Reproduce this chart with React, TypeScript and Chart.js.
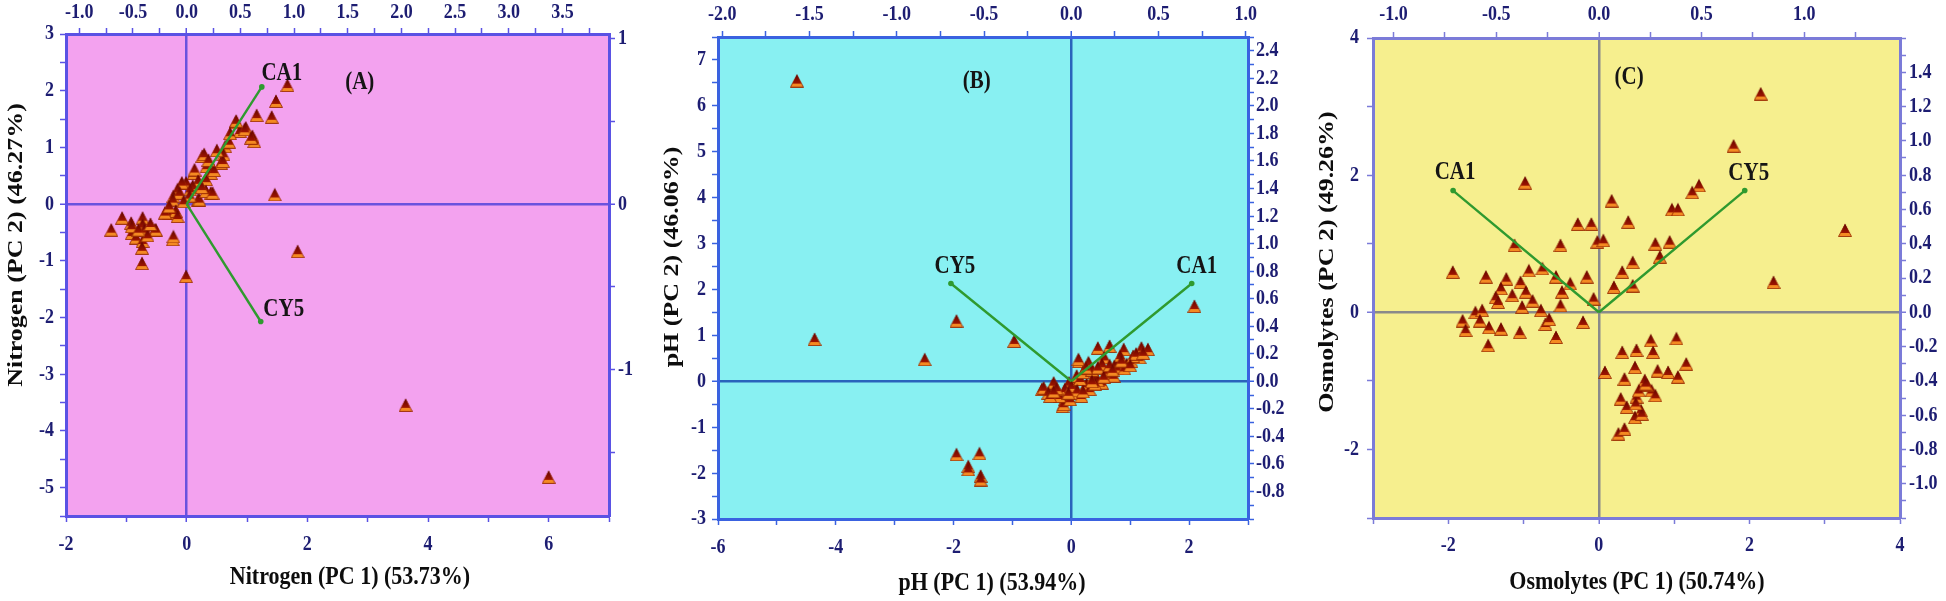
import React, { useEffect, useRef } from "react";
import { Chart, registerables } from "chart.js";

Chart.register(...registerables);

// ======================= DATA =======================
// Panel A – Nitrogen: PCA scores (PC1, PC2)
const A_SCORES: [number, number][] = [
  [1.67, 2.1], [1.48, 1.82], [1.41, 1.54], [1.16, 1.57], [0.81, 1.44], [0.98, 1.35],
  [1.09, 1.2], [1.12, 1.11], [0.88, 1.29], [0.96, 1.32], [0.82, 1.47], [1.07, 1.17],
  [0.64, 1.02], [0.61, 0.88], [0.57, 0.73], [0.6, 0.76], [0.26, 0.85], [0.29, 0.88],
  [0.33, 0.67], [0.4, 0.55], [0.12, 0.55], [0.13, 0.61], [0.19, 0.41], [0.32, 0.44],
  [0.4, 0.2], [0.19, 0.08], [0.21, 0.08], [0.32, 0.23], [0.43, 0.2], [0.1, 0.32],
  [-0.01, 0.38], [-0.08, 0.38], [-0.15, 0.26], [-0.22, 0.14], [-0.12, 0.2], [-0.23, 0.08],
  [0.06, 0.26], [1.46, 0.17], [1.84, -0.83], [-0.01, -1.27], [-0.74, -1.04], [-1.25, -0.45],
  [-1.07, -0.24], [-0.92, -0.33], [-0.73, -0.24], [-0.73, -0.36], [-0.53, -0.45], [-0.91, -0.51],
  [-0.84, -0.59], [-0.73, -0.65], [-0.74, -0.77], [-0.91, -0.39], [-0.23, -0.62], [-0.22, -0.57],
  [-0.29, -0.15], [-0.18, -0.12], [-0.36, -0.15], [-0.29, -0.04], [-0.15, -0.21], [-0.7, -0.45],
  [-0.51, -0.45], [0.5, 0.95], [0.7, 1.1], [0.45, 0.6], [0.05, 0.15], [0.25, 0.3],
  [-0.05, 0.05], [-0.65, -0.55], [-0.8, -0.45], [-0.6, -0.35], [0.72, 1.25], [0.36, 0.78],
  [3.63, -3.54], [6.0, -4.81],
];
// Loadings (top / right axes): [name, PC1, PC2]
const A_LOADINGS: [string, number, number][] = [["CA1", 0.7, 0.71], ["CY5", 0.69, -0.71]];
const A_X_LABELS = [-2, 0, 2, 4, 6];
const A_Y_LABELS = [-5, -4, -3, -2, -1, 0, 1, 2, 3];
const A_TOP_LABELS = [-1.0, -0.5, 0.0, 0.5, 1.0, 1.5, 2.0, 2.5, 3.0, 3.5];
const A_RIGHT_LABELS = [-1, 0, 1];

// Panel B – pH
const B_SCORES: [number, number][] = [
  [-4.66, 6.55], [-4.36, 0.92], [-2.49, 0.48], [-1.95, 1.32], [-0.97, 0.88], [2.09, 1.64],
  [-1.95, -1.59], [-1.56, -1.57], [-1.75, -1.85], [-1.75, -1.92], [-1.54, -2.06], [-1.54, -2.14],
  [0.45, 0.73], [0.65, 0.77], [0.89, 0.7], [1.19, 0.73], [1.3, 0.7], [0.13, 0.44], [0.12, 0.48],
  [0.3, 0.37], [0.29, 0.41], [0.56, 0.52], [0.52, 0.37], [0.8, 0.41], [0.83, 0.55], [1.02, 0.44],
  [1.16, 0.52], [-0.5, -0.17], [-0.47, -0.14], [-0.32, -0.1], [-0.3, -0.03], [-0.11, -0.39],
  [-0.15, -0.54], [-0.13, -0.5], [0.1, 0.04], [0.09, 0.12], [0.24, -0.1], [0.26, -0.06],
  [0.38, 0.12], [0.59, 0.19], [0.62, 0.23], [0.03, -0.25], [0.17, -0.32], [-0.25, -0.28],
  [-0.2, -0.32], [0.73, 0.33], [0.77, 0.3], [0.94, 0.37], [-0.04, -0.03], [-0.39, -0.25],
  [-0.36, -0.32], [0.31, -0.17], [0.52, -0.03], [0.45, 0.02], [-0.11, -0.17], [0.06, -0.17],
  [0.72, 0.12], [-0.02, -0.39], [1.05, 0.55], [0.9, 0.28], [0.0, -0.1], [0.15, 0.05],
  [0.2, 0.2], [0.35, 0.25], [0.45, 0.3], [0.55, 0.1], [0.65, 0.35], [0.85, 0.45],
  [1.1, 0.6], [1.22, 0.62], [0.4, -0.05], [0.1, -0.2], [-0.05, -0.25], [-0.25, -0.15],
  [0.2, -0.22], [0.35, 0.0], [0.7, 0.25], [1.0, 0.35], [0.25, 0.3], [-0.3, -0.22],
];
const B_LOADINGS: [string, number, number][] = [["CY5", -0.69, 0.71], ["CA1", 0.69, 0.71]];
const B_X_LABELS = [-6, -4, -2, 0, 2];
const B_Y_LABELS = [-3, -2, -1, 0, 1, 2, 3, 4, 5, 6, 7];
const B_TOP_LABELS = [-2.0, -1.5, -1.0, -0.5, 0.0, 0.5, 1.0];
const B_RIGHT_LABELS = [-0.8, -0.6, -0.4, -0.2, 0.0, 0.2, 0.4, 0.6, 0.8, 1.0, 1.2, 1.4, 1.6, 1.8, 2.0, 2.2, 2.4];

// Panel C – Osmolytes
const C_SCORES: [number, number][] = [
  [2.15, 3.19], [1.79, 2.43], [3.27, 1.2], [-0.98, 1.89], [0.17, 1.63], [1.33, 1.85],
  [1.24, 1.75], [0.97, 1.5], [1.05, 1.5], [-0.28, 1.29], [-0.1, 1.29], [0.39, 1.32],
  [-1.12, 0.98], [-0.51, 0.98], [-0.02, 1.03], [0.06, 1.05], [0.75, 1.0], [0.94, 1.03],
  [0.81, 0.81], [0.45, 0.73], [-1.94, 0.59], [-1.5, 0.52], [-1.23, 0.49], [-0.93, 0.61],
  [-0.75, 0.64], [-0.57, 0.52], [-0.38, 0.42], [-0.16, 0.52], [0.31, 0.59], [0.45, 0.39],
  [0.2, 0.37], [2.32, 0.44], [-1.3, 0.35], [-1.37, 0.22], [-1.15, 0.25], [-1.04, 0.44],
  [-0.97, 0.3], [-0.88, 0.17], [-0.49, 0.3], [-0.51, 0.1], [-1.02, 0.08], [-0.77, 0.03],
  [-0.07, 0.2], [-1.34, 0.15], [-1.81, -0.12], [-1.77, -0.26], [-1.64, 0.0], [-1.55, 0.03],
  [-1.58, -0.12], [-1.46, -0.22], [-1.3, -0.24], [-1.47, -0.48], [-1.05, -0.29], [-0.71, -0.17],
  [-0.66, -0.1], [-0.57, -0.36], [-0.21, -0.14], [0.69, -0.41], [1.03, -0.38], [0.31, -0.58],
  [0.5, -0.55], [0.72, -0.58], [0.08, -0.87], [0.34, -0.97], [0.48, -0.8], [0.61, -0.99],
  [0.78, -0.85], [0.92, -0.87], [1.05, -0.94], [1.16, -0.75], [0.29, -1.26], [0.37, -1.38],
  [0.5, -1.23], [0.56, -1.43], [0.7, -1.14], [0.75, -1.21], [0.64, -1.06], [0.48, -1.53],
  [0.26, -1.77], [0.34, -1.7], [0.53, -1.14], [0.62, -1.04], [0.57, -1.48], [0.49, -1.33],
];
const C_LOADINGS: [string, number, number][] = [["CA1", -0.71, 0.71], ["CY5", 0.71, 0.71]];
const C_X_LABELS = [-2, 0, 2, 4];
const C_Y_LABELS = [-2, 0, 2, 4];
const C_TOP_LABELS = [-1.0, -0.5, 0.0, 0.5, 1.0];
const C_RIGHT_LABELS = [-1.0, -0.8, -0.6, -0.4, -0.2, 0.0, 0.2, 0.4, 0.6, 0.8, 1.0, 1.2, 1.4];

// ======================= STYLE / LAYOUT =======================
type AxisSpec = { min: number; max: number; step: number; labels: number[]; dec: number };
type PanelCfg = {
  left: number; width: number;
  box: { l: number; r: number; t: number; b: number };
  bg: string; axisColor: string; zeroColor: string;
  x: AxisSpec; y: AxisSpec; x2: AxisSpec; y2: AxisSpec;
  xTitle: string; yTitle: string;
  xTitlePos: [number, number]; yTitlePos: [number, number];
  letter: string; letterPos: [number, number];
  scores: [number, number][]; loadings: [string, number, number][];
  loadLabelOff: [number, number][];
  lab: { b: number; t: number; l: number; r: number };
};

const PANELS: PanelCfg[] = [
  {
    left: 0, width: 648, box: { l: 66, r: 39, t: 34, b: 85 },
    bg: "#f3a2ef", axisColor: "#5a52e4", zeroColor: "#6a52de",
    x: { min: -2, max: 7, step: 1, labels: A_X_LABELS, dec: 0 },
    y: { min: -5.5, max: 3, step: 0.5, labels: A_Y_LABELS, dec: 0 },
    x2: { min: -1.124, max: 3.934, step: 0.25, labels: A_TOP_LABELS, dec: 1 },
    y2: { min: -1.887, max: 1.03, step: 0.5, labels: A_RIGHT_LABELS, dec: 0 },
    xTitle: "Nitrogen (PC 1) (53.73%)", yTitle: "Nitrogen (PC 2) (46.27%)",
    xTitlePos: [350, 577], yTitlePos: [16, 245],
    letter: "(A)", letterPos: [0.541, 0.1],
    scores: A_SCORES, loadings: A_LOADINGS, loadLabelOff: [[20, -13], [23, -12]],
    lab: { b: 29, t: 21, l: 12, r: 9 },
  },
  {
    left: 648, width: 648, box: { l: 70, r: 48, t: 37, b: 82 },
    bg: "#88f0f2", axisColor: "#3a62e0", zeroColor: "#2a64bc",
    x: { min: -6, max: 3, step: 1, labels: B_X_LABELS, dec: 0 },
    y: { min: -3, max: 7.5, step: 0.5, labels: B_Y_LABELS, dec: 0 },
    x2: { min: -2.025, max: 1.0125, step: 0.25, labels: B_TOP_LABELS, dec: 1 },
    y2: { min: -1, max: 2.5, step: 0.1, labels: B_RIGHT_LABELS, dec: 1 },
    xTitle: "pH (PC 1) (53.94%)", yTitle: "pH (PC 2) (46.06%)",
    xTitlePos: [344, 583], yTitlePos: [24, 257],
    letter: "(B)", letterPos: [0.488, 0.092],
    scores: B_SCORES, loadings: B_LOADINGS, loadLabelOff: [[4, -17], [5, -17]],
    lab: { b: 29, t: 22, l: 12, r: 8 },
  },
  {
    left: 1296, width: 650, box: { l: 77, r: 46, t: 38, b: 83 },
    bg: "#f6ef8e", axisColor: "#7b7bd8", zeroColor: "#8a8a8a",
    x: { min: -3, max: 4, step: 1, labels: C_X_LABELS, dec: 0 },
    y: { min: -3, max: 4, step: 1, labels: C_Y_LABELS, dec: 0 },
    x2: { min: -1.1, max: 1.466, step: 0.25, labels: C_TOP_LABELS, dec: 1 },
    y2: { min: -1.2, max: 1.6, step: 0.1, labels: C_RIGHT_LABELS, dec: 1 },
    xTitle: "Osmolytes (PC 1) (50.74%)", yTitle: "Osmolytes (PC 2) (49.26%)",
    xTitlePos: [341, 582], yTitlePos: [31, 262],
    letter: "(C)", letterPos: [0.486, 0.083],
    scores: C_SCORES, loadings: C_LOADINGS, loadLabelOff: [[2, -18], [4, -17]],
    lab: { b: 28, t: 23, l: 14, r: 9 },
  },
];

const FONT_FAMILY = '"Liberation Serif", "Times New Roman", serif';
const TICK_FONT = `bold 18px ${FONT_FAMILY}`;
const TITLE_FONT = `bold 22px ${FONT_FAMILY}`;
const NOTE_FONT = `bold 21px ${FONT_FAMILY}`;
const TICK_COLOR = "#1d1d72";
const TITLE_COLOR = "#0d0d0d";
const NOTE_COLOR = "#151515";
const ARROW_COLOR = "#2f9a2f";
const STRETCH = 1.18;

function tickList(min: number, max: number, step: number): number[] {
  const out: number[] = [];
  const start = Math.ceil((min - 1e-9) / step);
  const end = Math.floor((max + 1e-9) / step);
  for (let i = start; i <= end; i++) out.push(+(i * step).toFixed(6));
  return out;
}

function fmt(v: number, dec: number): string {
  const s = v.toFixed(dec);
  return s === "-0" || s === "-0.0" ? s.slice(1) : s;
}

function makeTriangle(): HTMLCanvasElement {
  const c = document.createElement("canvas");
  const w = 14, h = 14;
  c.width = w;
  c.height = h;
  const g = c.getContext("2d")!;
  // orange under-layer
  g.beginPath();
  g.moveTo(w / 2, 1.5);
  g.lineTo(w - 0.5, h - 0.5);
  g.lineTo(0.5, h - 0.5);
  g.closePath();
  g.fillStyle = "#f48a22";
  g.fill();
  g.strokeStyle = "rgba(150,40,0,0.85)";
  g.lineWidth = 1;
  g.stroke();
  // dark red top layer
  g.beginPath();
  g.moveTo(w / 2, 0.5);
  g.lineTo(w - 2.5, h - 4);
  g.lineTo(2.5, h - 4);
  g.closePath();
  const grad = g.createLinearGradient(0, 0, 0, h - 4);
  grad.addColorStop(0, "#5a0000");
  grad.addColorStop(1, "#a01600");
  g.fillStyle = grad;
  g.fill();
  return c;
}

function drawText(
  ctx: CanvasRenderingContext2D, text: string, x: number, y: number,
  font: string, color: string, align: CanvasTextAlign, vertical = false
) {
  ctx.save();
  ctx.translate(x, y);
  if (vertical) {
    ctx.rotate(-Math.PI / 2);
    ctx.scale(STRETCH, 1);
  } else {
    ctx.scale(1, STRETCH);
  }
  ctx.font = font;
  ctx.fillStyle = color;
  ctx.textAlign = align;
  ctx.textBaseline = "middle";
  ctx.fillText(text, 0, 0);
  ctx.restore();
}

function axis(p: PanelCfg, spec: AxisSpec, position: string, isMain: boolean) {
  const isZero = (c: any) => c.tick && Math.abs(c.tick.value) < 1e-9;
  return {
    type: "linear",
    position,
    min: spec.min,
    max: spec.max,
    afterBuildTicks: (s: any) => {
      s.ticks = tickList(spec.min, spec.max, spec.step).map((v) => ({ value: v }));
    },
    afterFit: (s: any) => {
      if (position === "left") s.width = p.box.l;
      else if (position === "right") s.width = p.box.r;
      else if (position === "top") s.height = p.box.t;
      else s.height = p.box.b;
    },
    ticks: { display: false },
    border: { display: true, color: p.axisColor, width: 3 },
    grid: {
      display: true,
      drawOnChartArea: isMain,
      drawTicks: true,
      tickLength: 6,
      tickWidth: 1.5,
      tickColor: p.axisColor,
      color: (c: any) => (isMain && isZero(c) ? p.zeroColor : "rgba(0,0,0,0)"),
      lineWidth: (c: any) => (isZero(c) ? 2.5 : 1),
    },
  };
}

function makeChart(canvas: HTMLCanvasElement, p: PanelCfg, tri: HTMLCanvasElement) {
  const bgPlugin = {
    id: "panelBg",
    beforeDraw(chart: any) {
      const { ctx, chartArea: ca } = chart;
      ctx.save();
      ctx.fillStyle = p.bg;
      ctx.fillRect(ca.left, ca.top, ca.right - ca.left, ca.bottom - ca.top);
      ctx.restore();
    },
  };
  const textPlugin = {
    id: "panelText",
    afterDraw(chart: any) {
      const ctx = chart.ctx as CanvasRenderingContext2D;
      const ca = chart.chartArea;
      const { x, y, x2, y2 } = chart.scales;
      p.x.labels.forEach((v) =>
        drawText(ctx, fmt(v, p.x.dec), x.getPixelForValue(v), ca.bottom + p.lab.b, TICK_FONT, TICK_COLOR, "center"));
      p.x2.labels.forEach((v) =>
        drawText(ctx, fmt(v, p.x2.dec), x2.getPixelForValue(v), ca.top - p.lab.t, TICK_FONT, TICK_COLOR, "center"));
      p.y.labels.forEach((v) =>
        drawText(ctx, fmt(v, p.y.dec), ca.left - p.lab.l, y.getPixelForValue(v), TICK_FONT, TICK_COLOR, "right"));
      p.y2.labels.forEach((v) =>
        drawText(ctx, fmt(v, p.y2.dec), ca.right + p.lab.r, y2.getPixelForValue(v), TICK_FONT, TICK_COLOR, "left"));
      drawText(ctx, p.xTitle, p.xTitlePos[0], p.xTitlePos[1], TITLE_FONT, TITLE_COLOR, "center");
      drawText(ctx, p.yTitle, p.yTitlePos[0], p.yTitlePos[1], TITLE_FONT, TITLE_COLOR, "center", true);
      drawText(ctx, p.letter,
        ca.left + p.letterPos[0] * (ca.right - ca.left),
        ca.top + p.letterPos[1] * (ca.bottom - ca.top), NOTE_FONT, NOTE_COLOR, "center");
      p.loadings.forEach(([name, lx, ly], i) => {
        const off = p.loadLabelOff[i];
        drawText(ctx, name, x2.getPixelForValue(lx) + off[0], y2.getPixelForValue(ly) + off[1],
          NOTE_FONT, NOTE_COLOR, "center");
      });
    },
  };

  const datasets: any[] = [
    {
      label: "scores",
      data: p.scores.map(([a, b]) => ({ x: a, y: b })),
      xAxisID: "x",
      yAxisID: "y",
      pointStyle: tri,
      pointRadius: 7,
      order: 2,
    },
    ...p.loadings.map(([name, lx, ly]) => ({
      label: name,
      data: [{ x: 0, y: 0 }, { x: lx, y: ly }],
      xAxisID: "x2",
      yAxisID: "y2",
      showLine: true,
      borderColor: ARROW_COLOR,
      borderWidth: 2.4,
      pointRadius: [0, 2.8],
      pointBackgroundColor: ARROW_COLOR,
      pointBorderWidth: 0,
      order: 1,
    })),
  ];

  return new Chart(canvas, {
    type: "scatter",
    data: { datasets },
    options: {
      responsive: false,
      animation: false,
      devicePixelRatio: 1,
      layout: { padding: 0 },
      plugins: { legend: { display: false }, tooltip: { enabled: false } },
      scales: {
        x: axis(p, p.x, "bottom", true),
        x2: axis(p, p.x2, "top", false),
        y: axis(p, p.y, "left", true),
        y2: axis(p, p.y2, "right", false),
      } as any,
    },
    plugins: [bgPlugin, textPlugin],
  } as any);
}

export default function App() {
  const refs = useRef<(HTMLCanvasElement | null)[]>([]);
  useEffect(() => {
    const tri = makeTriangle();
    const charts = PANELS.map((p, i) => makeChart(refs.current[i]!, p, tri));
    return () => charts.forEach((c) => c.destroy());
  }, []);
  return (
    <div style={{ position: "fixed", left: 0, top: 0, width: 1946, height: 601, background: "#ffffff" }}>
      {PANELS.map((p, i) => (
        <canvas
          key={i}
          ref={(el) => { refs.current[i] = el; }}
          width={p.width}
          height={601}
          style={{ position: "absolute", left: p.left, top: 0, width: p.width, height: 601 }}
        />
      ))}
    </div>
  );
}
